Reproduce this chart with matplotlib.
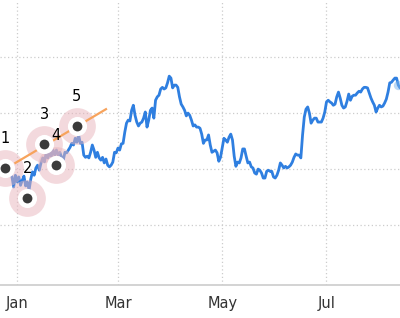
import numpy as np
import matplotlib
matplotlib.use("Agg")
import matplotlib.pyplot as plt
import matplotlib.dates as mdates

# daily closes, first value is 2022-12-29
start = np.datetime64("2022-12-29")
values = [
    18.6, 16.8, 18.9, 17.7, 18.6, 17.1, 18.0, 18.75, 17.0, 17.7,
    16.25, 18.2, 19.5, 18.9, 20.2, 20.7, 19.8, 21.1, 22.0, 21.3,
    22.9, 22.0, 23.0, 22.3, 23.4, 22.5, 23.4, 22.5, 23.0, 22.1,
    21.6, 23.0, 22.9, 23.4, 23.9, 24.6, 24.3, 25.5, 24.8, 26.1,
    24.6, 24.8, 22.5, 22.1, 22.3, 22.0, 23.0, 24.3, 23.4, 22.1,
    23.0, 22.0, 21.6, 22.1, 21.1, 21.8, 20.7, 20.4, 20.7, 21.25,
    23.0, 22.9, 23.75, 23.4, 24.5, 24.6, 26.6, 28.2, 28.75, 28.6,
    30.5, 31.4, 29.6, 28.4, 27.7, 28.2, 28.4, 29.1, 30.2, 27.5,
    28.75, 30.5, 30.9, 29.1, 32.3, 32.9, 33.2, 34.3, 34.6, 34.3,
    34.5, 35.4, 36.6, 36.25, 34.5, 35.0, 35.0, 34.6, 32.9, 31.6,
    31.1, 30.5, 29.5, 30.0, 29.6, 28.75, 27.7, 27.9, 27.5, 27.5,
    27.3, 26.25, 24.6, 25.2, 25.2, 26.1, 24.3, 23.0, 23.2, 23.4,
    22.9, 21.4, 22.1, 23.75, 25.5, 25.2, 24.8, 25.7, 26.25, 25.2,
    22.3, 20.5, 21.25, 21.1, 22.0, 23.6, 23.6, 22.3, 21.1, 21.25,
    20.4, 20.2, 19.3, 19.1, 20.0, 19.8, 19.3, 18.4, 18.4, 19.6,
    19.8, 19.6, 19.6, 18.6, 18.4, 18.9, 19.8, 21.1, 20.7, 20.2,
    20.5, 20.2, 20.4, 20.7, 21.25, 22.1, 22.7, 22.5, 22.5, 22.0,
    26.1, 29.3, 30.7, 31.1, 30.0, 28.2, 28.75, 29.1, 29.1, 28.4,
    28.4, 28.4, 29.1, 30.2, 32.0, 32.3, 32.0, 31.8, 31.4, 31.6,
    32.9, 33.75, 32.7, 31.4, 30.9, 31.1, 32.1, 33.4, 32.3, 33.0,
    33.2, 33.2, 33.6, 33.9, 33.75, 34.3, 34.6, 34.6, 34.5, 33.6,
    32.7, 32.0, 31.4, 30.2, 30.9, 31.4, 31.1, 31.25, 31.8, 32.5,
    33.75, 35.4, 35.5, 35.9, 36.25, 36.25, 35.0, 34.5, 34.5,
]
dates = start + np.arange(len(values))

# elliott wave annotation points
wave_labels = ["1", "2", "3", "4", "5"]
wave_dates = np.array(["2022-12-25", "2023-01-07", "2023-01-17", "2023-01-24", "2023-02-05"],
                      dtype="datetime64[D]")
wave_values = [20.2, 14.8, 24.5, 20.7, 27.7]

# trend line
trend_dates = np.array(["2022-12-31", "2023-02-22"], dtype="datetime64[D]")
trend_values = [21.1, 30.7]

fig = plt.figure(figsize=(4.0, 3.18), dpi=100)
ax = fig.add_axes([0, 33 / 318, 1, 285 / 318])

ax.plot(dates, values, color="#2f7fe0", lw=2.0, zorder=2, solid_joinstyle="round")
ax.scatter(dates[-3:-2], values[-3:-2], s=45, color="#7cb5ec", alpha=0.5, lw=0, zorder=2)

ax.scatter(wave_dates, wave_values, s=700, color="#e8b4bc", alpha=0.5, lw=0, zorder=3)
ax.plot(trend_dates, trend_values, color="#f7a35c", lw=1.6, zorder=4)
ax.scatter(wave_dates, wave_values, s=190, color="white", lw=0, zorder=5)
ax.scatter(wave_dates, wave_values, s=50, color="#3a3a3a", lw=0, zorder=6)
for d, v, t in zip(wave_dates, wave_values, wave_labels):
    ax.annotate(t, (d, v), xytext=(0, 21.5), textcoords="offset points",
                ha="center", va="center", fontsize=10.5, color="black", zorder=7)

ax.set_xlim(np.datetime64("2022-12-22"), np.datetime64("2023-08-13"))
ax.set_ylim(-0.7, 50.2)

ax.xaxis.set_major_locator(mdates.MonthLocator(bymonth=[1, 3, 5, 7]))
ax.xaxis.set_major_formatter(mdates.DateFormatter("%b"))
ax.set_yticks([10, 20, 30, 40])
ax.tick_params(axis="x", length=0, pad=8, labelsize=10.5, labelcolor="#333333")
ax.tick_params(axis="y", length=0, labelleft=False)
ax.grid(True, ls=(0, (1, 2)), color="#cccccc", lw=0.9)
ax.set_axisbelow(True)

for s in ["top", "left", "right"]:
    ax.spines[s].set_visible(False)
ax.spines["bottom"].set_color("#cccccc")
ax.spines["bottom"].set_linewidth(1.2)

fig.savefig("out.png", dpi=100)
